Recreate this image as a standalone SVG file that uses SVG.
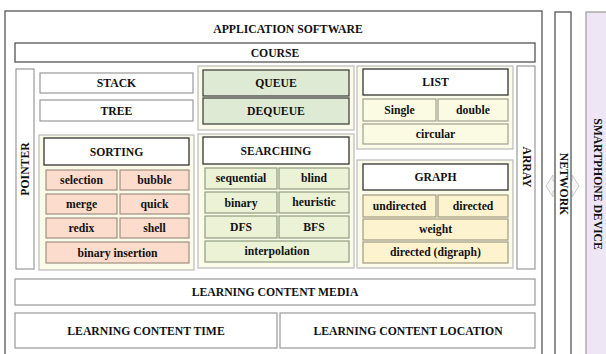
<svg xmlns="http://www.w3.org/2000/svg" width="606" height="354" viewBox="0 0 606 354">
<style>
text{font-family:"Liberation Serif","Times New Roman",serif;font-weight:bold;font-size:11.7px;fill:#111;text-anchor:middle;dominant-baseline:central}
.plain{fill:#fff;stroke:#999;stroke-width:1.2}
.outer{fill:#fff;stroke:#555;stroke-width:1.3}
.panel{fill:#fbfbe9;stroke:#bbb;stroke-width:1.2}
.head{fill:#fff;stroke:#333;stroke-width:1.3}
.queue{fill:#dfead4;stroke:#444;stroke-width:1.3}
.sort{fill:#fbdccd;stroke:#a09080;stroke-width:1.2}
.srch{fill:#ebf2d6;stroke:#8f9c80;stroke-width:1.2}
.list{fill:#fbfbe4;stroke:#a0a090;stroke-width:1.2}
.graph{fill:#fdf3cf;stroke:#a09a80;stroke-width:1.2}
.phone{fill:#eee6f4;stroke:#999;stroke-width:1.2}
.arr{fill:#f6f6f6;stroke:#c8c8c8;stroke-width:1}
</style>
<rect x="0" y="0" width="606" height="354" fill="#fff"/>
<g id="smartphone"><rect class="phone" x="586" y="12" width="30" height="360"/><text transform="translate(597,184) rotate(90)" font-size="12.8">SMARTPHONE DEVICE</text></g>
<g id="connectors"><polygon class="arr" points="546,186 553,175 553,181 572,181 572,175 579,186 572,197 572,191 553,191 553,197"/></g>
<g id="network"><rect class="outer" x="555" y="12" width="16" height="360"/><text transform="translate(563,184) rotate(90)">NETWORK</text></g>
<g id="application"><rect class="outer" x="5" y="11" width="537" height="360"/><text x="288" y="29">APPLICATION SOFTWARE</text></g>
<g id="course"><rect class="outer" x="15" y="43" width="520" height="19"/><text x="275" y="53">COURSE</text></g>
<g id="pointer"><rect class="plain" x="16" y="69" width="18" height="200"/><text transform="translate(25.5,169) rotate(-90)">POINTER</text></g>
<g id="stack"><rect class="plain" x="40" y="73" width="153" height="20"/><text x="116.5" y="83.5">STACK</text></g>
<g id="tree"><rect class="plain" x="40" y="100" width="153" height="21"/><text x="116.5" y="111">TREE</text></g>
<g id="sorting">
<rect class="panel" x="39" y="135" width="155" height="135"/>
<rect class="head" x="44" y="138" width="145" height="27"/><text x="116.5" y="152">SORTING</text>
<rect class="sort" x="46" y="170" width="71" height="20"/><text x="81.5" y="180.5">selection</text>
<rect class="sort" x="120" y="170" width="69" height="20"/><text x="154.5" y="180.5">bubble</text>
<rect class="sort" x="46" y="194" width="71" height="20"/><text x="81.5" y="204.5">merge</text>
<rect class="sort" x="120" y="194" width="69" height="20"/><text x="154.5" y="204.5">quick</text>
<rect class="sort" x="46" y="218" width="71" height="20"/><text x="81.5" y="228.5">redix</text>
<rect class="sort" x="120" y="218" width="69" height="20"/><text x="154.5" y="228.5">shell</text>
<rect class="sort" x="46" y="242" width="143" height="21"/><text x="117.5" y="253">binary insertion</text>
</g>
<g id="queue-panel">
<rect class="panel" x="198" y="66" width="156" height="64"/>
<rect class="queue" x="203" y="70" width="146" height="26"/><text x="276" y="83.5">QUEUE</text>
<rect class="queue" x="203" y="98" width="146" height="26"/><text x="276" y="111.5">DEQUEUE</text>
</g>
<g id="searching">
<rect class="panel" x="198" y="134" width="156" height="134"/>
<rect class="head" x="203" y="137" width="146" height="27"/><text x="276" y="151">SEARCHING</text>
<rect class="srch" x="205" y="168" width="72" height="21"/><text x="241" y="178.5">sequential</text>
<rect class="srch" x="279" y="168" width="70" height="21"/><text x="314" y="178.5">blind</text>
<rect class="srch" x="205" y="192" width="72" height="21"/><text x="241" y="203">binary</text>
<rect class="srch" x="279" y="192" width="70" height="21"/><text x="314" y="202.5">heuristic</text>
<rect class="srch" x="205" y="216" width="72" height="22"/><text x="241" y="227">DFS</text>
<rect class="srch" x="279" y="216" width="70" height="22"/><text x="314" y="227">BFS</text>
<rect class="srch" x="205" y="241" width="144" height="21"/><text x="277" y="251.5">interpolation</text>
</g>
<g id="list">
<rect class="panel" x="357" y="66" width="156" height="83"/>
<rect class="head" x="363" y="69" width="145" height="26"/><text x="435.5" y="82">LIST</text>
<rect class="list" x="363" y="99" width="73" height="22"/><text x="399.5" y="110">Single</text>
<rect class="list" x="438" y="99" width="70" height="22"/><text x="473" y="110.5">double</text>
<rect class="list" x="363" y="124" width="145" height="20"/><text x="435.5" y="134">circular</text>
</g>
<g id="graph">
<rect class="panel" x="357" y="160" width="156" height="108"/>
<rect class="head" x="363" y="164" width="145" height="26"/><text x="435.5" y="177.5">GRAPH</text>
<rect class="graph" x="363" y="195" width="73" height="22"/><text x="399.5" y="206">undirected</text>
<rect class="graph" x="438" y="195" width="70" height="22"/><text x="473" y="206">directed</text>
<rect class="graph" x="363" y="219" width="145" height="21"/><text x="435.5" y="229.5">weight</text>
<rect class="graph" x="363" y="242" width="145" height="21"/><text x="435.5" y="252.5">directed (digraph)</text>
</g>
<g id="array"><rect class="plain" x="517" y="66" width="18" height="203"/><text transform="translate(526.5,167) rotate(90)">ARRAY</text></g>
<g id="media"><rect class="plain" x="15" y="279" width="520" height="26"/><text x="275" y="292.5">LEARNING CONTENT MEDIA</text></g>
<g id="time"><rect class="plain" x="15" y="313" width="262" height="35"/><text x="146" y="331">LEARNING CONTENT TIME</text></g>
<g id="location"><rect class="plain" x="280" y="313" width="255" height="35"/><text x="408" y="331">LEARNING CONTENT LOCATION</text></g>
</svg>
